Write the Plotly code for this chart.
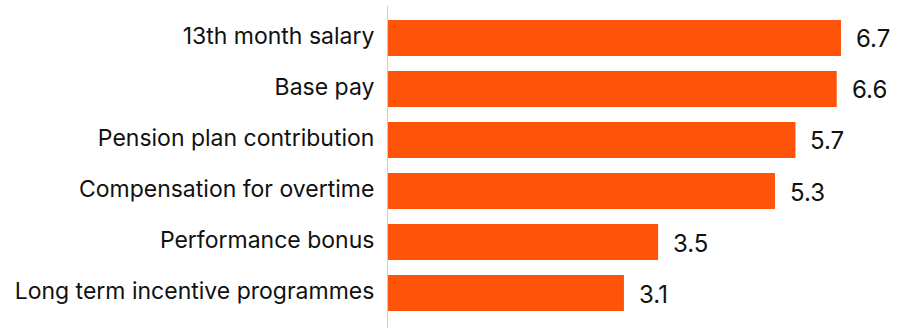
import math
import plotly.graph_objects as go

# Compensation components, top to bottom
categories = [
    "13th month salary",
    "Base pay",
    "Pension plan contribution",
    "Compensation for overtime",
    "Performance bonus",
    "Long term incentive programmes",
]
values = [6.7, 6.6, 5.7, 5.3, 3.5, 3.1]
value_labels = ["6.7", "6.6", "5.7", "5.3", "3.5", "3.1"]

BAR_COLOR = "#FE540A"
TEXT_COLOR = "#111111"
FONT = "Inter"

fig = go.Figure(
    go.Bar(
        x=values,
        y=categories,
        orientation="h",
        marker=dict(color=BAR_COLOR, line=dict(width=0)),
        width=0.706,
        hoverinfo="skip",
    )
)

# value labels just to the right of each bar
for cat, val, lab in zip(categories, values, value_labels):
    fig.add_annotation(
        x=math.log10(val),
        y=cat,
        text=lab,
        showarrow=False,
        xanchor="left",
        yanchor="middle",
        xshift=13,
        yshift=-1,
        font=dict(family=FONT, size=24, color=TEXT_COLOR),
    )

fig.update_layout(
    width=902,
    height=328,
    margin=dict(l=388, r=0, t=6, b=0),
    paper_bgcolor="white",
    plot_bgcolor="white",
    showlegend=False,
    font=dict(family=FONT, size=23, color=TEXT_COLOR),
    xaxis=dict(
        type="log",
        range=[0.1275, 0.9202],
        showticklabels=False,
        showgrid=False,
        zeroline=False,
        showline=False,
        ticks="",
    ),
    yaxis=dict(
        categoryorder="array",
        categoryarray=categories[::-1],
        range=[-0.686, 5.627],
        showgrid=False,
        zeroline=False,
        showline=True,
        linecolor="#C9CED6",
        linewidth=1,
        ticks="",
        ticklabelstandoff=8,
        ticklabelshift=-2,
        tickfont=dict(family=FONT, size=23, color=TEXT_COLOR),
    ),
)

fig.write_html("out.html")
